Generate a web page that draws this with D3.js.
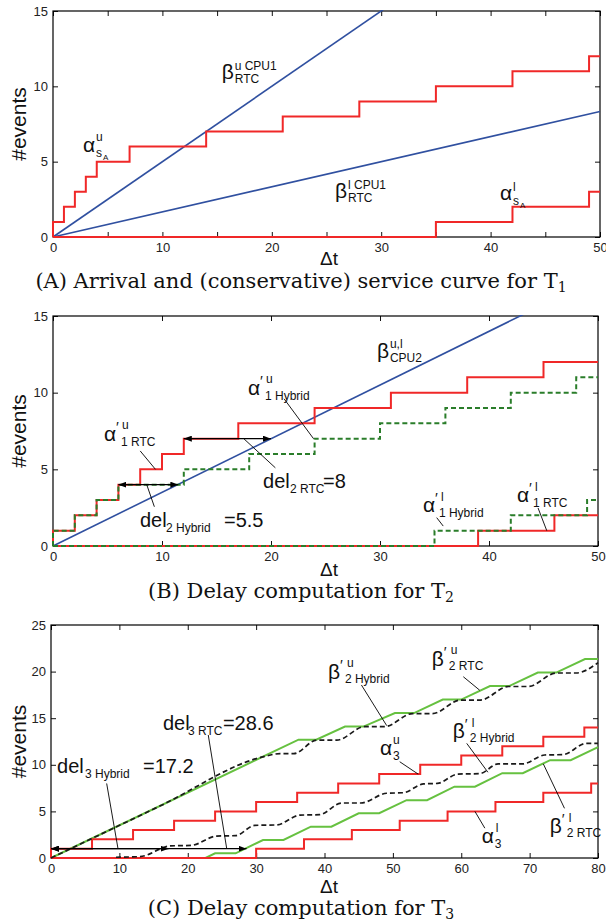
<!DOCTYPE html>
<html>
<head>
<meta charset="utf-8">
<script src="https://cdnjs.cloudflare.com/ajax/libs/d3/7.8.5/d3.min.js"></script>
<style>
  body { margin: 0; background: #fff; }
  svg { display: block; }
  .tick text { font-family: "Liberation Sans", Arial, sans-serif; font-size: 13px; fill: #222; }
  .tick line { stroke: #111; }
</style>
</head>
<body>
<svg id="chart" width="606" height="921"></svg>
<script>
// ---------------- data ----------------

// (A) arrival and service curves for T1
const aAlphaUpperT = [0, 0, 1, 2, 3, 4, 7, 14, 21, 28, 35, 42, 49, 50];
const aAlphaUpperN = [0, 1, 2, 3, 4, 5, 6, 7, 8, 9, 10, 11, 12, 12];
const aAlphaLowerT = [0, 35, 42, 49, 50];
const aAlphaLowerN = [0, 1, 2, 3, 3];
const aBetaT = [0, 50];
const aBetaUpperN = [0, 25];
const aBetaLowerN = [0, 8.33];
const aXTicks = [0, 5, 10, 15, 20, 25, 30, 35, 40, 45, 50];
const aYTicks = [0, 5, 10, 15];

// (B) delay computation for T2
const bRtcUpperT = [0, 0, 2, 4, 6, 8, 10, 12, 17, 24, 31, 38, 45, 50];
const bRtcUpperN = [0, 1, 2, 3, 4, 5, 6, 7, 8, 9, 10, 11, 12, 12];
const bHybUpperT = [0, 0, 2, 4, 6, 12, 18, 24, 30, 36, 42, 48, 50];
const bHybUpperN = [0, 1, 2, 3, 4, 5, 6, 7, 8, 9, 10, 11, 11];
const bRtcLowerT = [0, 39, 46, 50];
const bRtcLowerN = [0, 1, 2, 2];
const bHybLowerT = [0, 35, 42, 49, 50];
const bHybLowerN = [0, 1, 2, 3, 3];
const bBetaT = [0, 50];
const bBetaN = [0, 17.5];
// delay arrows: [level, from, to]
const bDelays = [[7, 12, 20], [4, 6, 11.5]];
const bXTicks = [0, 10, 20, 30, 40, 50];
const bYTicks = [0, 5, 10, 15];

// (C) delay computation for T3
const cAlphaUpperT = [0, 0, 6, 12, 18, 24, 30, 36, 42, 48, 54, 60, 66, 72, 78, 80];
const cAlphaUpperN = [0, 1, 2, 3, 4, 5, 6, 7, 8, 9, 10, 11, 12, 13, 14, 14];
const cAlphaLowerT = [0, 30, 37, 44, 51, 58, 65, 72, 79, 80];
const cAlphaLowerN = [0, 1, 2, 3, 4, 5, 6, 7, 8, 8];
const cBetaRtcUpperT = [0, 36.2, 38.8, 43.0, 45.7, 50.3, 53.1, 57.3, 60.0, 64.2, 67.0, 71.2, 73.9, 78.1, 80];
const cBetaRtcUpperN = [0, 12.7, 12.7, 14.1, 14.1, 15.55, 15.55, 17.0, 17.0, 18.45, 18.45, 19.9, 19.9, 21.35, 21.35];
const cBetaRtcLowerT = [0, 22.6, 24, 27, 31, 34, 38, 41, 45, 48, 52, 55, 59, 62, 66, 69, 73, 76, 80];
const cBetaRtcLowerN = [0, 0, 0.5, 0.5, 1.93, 1.93, 3.36, 3.36, 4.8, 4.8, 6.2, 6.2, 7.65, 7.65, 9.1, 9.1, 10.5, 10.5, 11.9];
const cBetaHybUpperT = [0, 16, 31, 33.5, 35.5, 38.9, 41.8, 45.9, 48.8, 52.9, 55.8, 59.9, 62.8, 66.9, 69.8, 73.9, 76.8, 80];
const cBetaHybUpperN = [0, 5.6, 10.85, 11.2, 11.2, 12.65, 12.65, 14.1, 14.1, 15.5, 15.5, 16.95, 16.95, 18.4, 18.4, 19.85, 19.85, 20.95];
const cBetaHybLowerT = [9.5, 13, 17.5, 20.5, 24.2, 27, 29.8, 33, 36.4, 39.3, 42.5, 45.3, 49.1, 51.5, 54.5, 56.5, 59.5, 62.7, 65.4, 69, 72.2, 74.9, 78.3, 80];
const cBetaHybLowerN = [0.08, 0.15, 1.3, 1.35, 2.35, 2.4, 3.5, 3.55, 4.6, 4.65, 5.9, 5.9, 6.95, 7.0, 7.95, 8.0, 9.0, 9.05, 10.1, 10.1, 11.05, 11.1, 12.3, 12.3];
const cDelays = [[1, 0, 17.2], [1, 0, 28.6]];
const cXTicks = [0, 10, 20, 30, 40, 50, 60, 70, 80];
const cYTicks = [0, 5, 10, 15, 20, 25];

// ---------------- style ----------------
const SANS = '"Liberation Sans", Arial, sans-serif';
const SERIF = '"DejaVu Serif", serif';
const RED = "#f02828", BLUE = "#3050a0", DKGREEN = "#2a7d2a", LTGREEN = "#66c140", BLACK = "#1a1a1a";

const svg = d3.select("#chart");
const defs = svg.append("defs");
defs.append("marker")
  .attr("id", "head")
  .attr("viewBox", "0 0 8 6")
  .attr("refX", 8).attr("refY", 3)
  .attr("markerWidth", 8).attr("markerHeight", 6)
  .attr("markerUnits", "userSpaceOnUse")
  .attr("orient", "auto-start-reverse")
  .append("path").attr("d", "M0,0L8,3L0,6Z").attr("fill", "#000");

const zip = (ts, ns) => ts.map((t, i) => [t, ns[i]]);

// draws the frame, ticks, axis titles and caption of one panel
function panel(cfg) {
  const x = d3.scaleLinear().domain(cfg.xDomain).range(cfg.xRange);
  const y = d3.scaleLinear().domain(cfg.yDomain).range(cfg.yRange);
  const g = svg.append("g");
  const [x0, x1] = cfg.xRange, [y0, y1] = [cfg.yRange[1], cfg.yRange[0]];

  defs.append("clipPath").attr("id", "clip" + cfg.name)
    .append("rect")
    .attr("x", x0 - 2).attr("y", y0 - 1)
    .attr("width", x1 - x0 + 4).attr("height", y1 - y0 + 3);

  g.append("g").attr("transform", `translate(0,${y1})`)
    .call(d3.axisBottom(x).tickValues(cfg.xTicks).tickSize(-5).tickPadding(6)
      .tickFormat(d => d % 10 === 0 ? d : ""))
    .call(a => a.select(".domain").remove());
  g.append("g").attr("transform", `translate(0,${y0})`)
    .call(d3.axisTop(x).tickValues(cfg.xTicks).tickSize(-5).tickFormat(""))
    .call(a => a.select(".domain").remove());
  g.append("g").attr("transform", `translate(${x0},0)`)
    .call(d3.axisLeft(y).tickValues(cfg.yTicks).tickSize(-5).tickPadding(5))
    .call(a => a.select(".domain").remove());
  g.append("g").attr("transform", `translate(${x1},0)`)
    .call(d3.axisRight(y).tickValues(cfg.yTicks).tickSize(-5).tickFormat(""))
    .call(a => a.select(".domain").remove());
  g.selectAll(".tick text").attr("font-family", null).attr("font-size", null);

  g.append("rect")
    .attr("x", x0).attr("y", y0).attr("width", x1 - x0).attr("height", y1 - y0)
    .attr("fill", "none").attr("stroke", "#000").attr("stroke-width", 1.2);

  // axis titles
  g.append("text")
    .attr("transform", `translate(26,${(y0 + y1) / 2}) rotate(-90)`)
    .attr("text-anchor", "middle")
    .attr("font-family", SANS).attr("font-size", 21).attr("fill", "#111")
    .text("#events");
  g.append("text")
    .attr("x", 329).attr("y", cfg.dtY)
    .attr("text-anchor", "middle")
    .attr("font-family", SANS).attr("font-size", 19).attr("fill", "#111")
    .text("\u0394t");

  // caption
  const cap = g.append("text")
    .attr("x", 301).attr("y", cfg.capY)
    .attr("text-anchor", "middle")
    .attr("font-family", SERIF).attr("font-size", 21).attr("fill", "#111");
  cap.append("tspan").text(cfg.caption + "T");
  cap.append("tspan").attr("dy", 4).attr("font-size", 14).text(cfg.capSub);

  const plot = svg.append("g").attr("clip-path", `url(#clip${cfg.name})`);
  const over = svg.append("g");
  return { x, y, plot, over };
}

function stepLine(p, data, color, width, dash) {
  p.plot.append("path")
    .attr("d", d3.line().curve(d3.curveStepAfter).x(d => p.x(d[0])).y(d => p.y(d[1]))(data))
    .attr("fill", "none").attr("stroke", color).attr("stroke-width", width)
    .attr("stroke-dasharray", dash || null);
}

function curveLine(p, data, color, width, dash, curve) {
  p.plot.append("path")
    .attr("d", d3.line().curve(curve || d3.curveLinear).x(d => p.x(d[0])).y(d => p.y(d[1]))(data))
    .attr("fill", "none").attr("stroke", color).attr("stroke-width", width)
    .attr("stroke-dasharray", dash || null);
}

function delayArrows(p, list) {
  list.forEach(([lvl, a, b]) => {
    p.over.append("line")
      .attr("x1", p.x(a)).attr("x2", p.x(b)).attr("y1", p.y(lvl)).attr("y2", p.y(lvl))
      .attr("stroke", "#000").attr("stroke-width", 1.2)
      .attr("marker-start", "url(#head)").attr("marker-end", "url(#head)");
  });
}

// annotation: anchor in data units, pieces = [text, dx, dy, fontSize]
function label(p, ann) {
  const t = p.over.append("text").attr("font-family", SANS).attr("fill", "#111");
  const ax = p.x(ann.at[0]), ay = p.y(ann.at[1]);
  ann.pieces.forEach(([s, dx, dy, fs]) => {
    t.append("tspan").attr("x", ax + dx).attr("y", ay + dy).attr("font-size", fs).text(s);
  });
  if (ann.leader) {
    const [[lx1, ly1], [lx2, ly2]] = ann.leader;
    p.over.append("line")
      .attr("x1", p.x(lx1)).attr("y1", p.y(ly1)).attr("x2", p.x(lx2)).attr("y2", p.y(ly2))
      .attr("stroke", "#000").attr("stroke-width", 0.9);
  }
}

// ---------------- panel A ----------------
const pA = panel({
  name: "A", xDomain: [0, 50], xRange: [53, 600], yDomain: [0, 15], yRange: [237, 11],
  xTicks: aXTicks, yTicks: aYTicks, dtY: 265, capY: 288,
  caption: "(A) Arrival and (conservative) service curve for ", capSub: "1"
});
curveLine(pA, zip(aBetaT, aBetaUpperN), BLUE, 1.6);
curveLine(pA, zip(aBetaT, aBetaLowerN), BLUE, 1.6);
stepLine(pA, zip(aAlphaUpperT, aAlphaUpperN), RED, 2);
stepLine(pA, zip(aAlphaLowerT, aAlphaLowerN), RED, 2);

const annA = [
  { at: [15.42, 10.48], pieces: [["\u03b2", 0, 0, 21], ["u CPU1", 13, -9, 12], ["RTC", 13, 4, 12]] },
  { at: [2.74, 5.64], pieces: [["\u03b1", 0, 0, 21], ["u", 13, -11, 12], ["s", 13, 5, 12], ["A", 20, 8, 8]] },
  { at: [25.78, 2.59], pieces: [["\u03b2", 0, 0, 21], ["l CPU1", 13, -9, 12], ["RTC", 13, 4, 12]] },
  { at: [40.86, 2.46], pieces: [["\u03b1", 0, 0, 21], ["l", 13, -9, 12], ["s", 13, 5, 12], ["A", 20, 8, 8]] }
];
annA.forEach(a => label(pA, a));

// ---------------- panel B ----------------
const pB = panel({
  name: "B", xDomain: [0, 50], xRange: [53, 598], yDomain: [0, 15], yRange: [546, 316],
  xTicks: bXTicks, yTicks: bYTicks, dtY: 576, capY: 598,
  caption: "(B) Delay computation for ", capSub: "2"
});
curveLine(pB, zip(bBetaT, bBetaN), BLUE, 1.6);
stepLine(pB, zip(bRtcUpperT, bRtcUpperN), RED, 2);
stepLine(pB, zip(bRtcLowerT, bRtcLowerN), RED, 2);
stepLine(pB, zip(bHybUpperT, bHybUpperN), DKGREEN, 2, "5,3");
stepLine(pB, zip(bHybLowerT, bHybLowerN), DKGREEN, 2, "5,3");
delayArrows(pB, bDelays);

const annB = [
  { at: [29.72, 12.26], pieces: [["\u03b2", 0, 0, 21], ["u,l", 13, -10, 12], ["CPU2", 13, 4, 12]] },
  { at: [4.68, 6.85], pieces: [["\u03b1", 0, 0, 21], ["\u2032", 12, -9, 15], ["u", 18, -12, 12], ["1 RTC", 17, 5, 12]],
    leader: [[8.0, 6.2], [9.4, 5.0]] },
  { at: [17.89, 9.85], pieces: [["\u03b1", 0, 0, 21], ["\u2032", 12, -9, 15], ["u", 18, -12, 12], ["1 Hybrid", 17, 5, 12]],
    leader: [[21.2, 9.6], [23.9, 7.0]] },
  { at: [19.27, 3.78], pieces: [["del", 0, 0, 20], ["2 RTC", 27, 5, 12], ["=8", 60, 0, 20]],
    leader: [[17.5, 7.0], [20.4, 5.1]] },
  { at: [7.98, 1.24], pieces: [["del", 0, 0, 20], ["2 Hybrid", 26, 5, 12], ["=5.5", 84, 0, 20]],
    leader: [[8.6, 4.0], [9.3, 2.56]] },
  { at: [33.94, 2.22], pieces: [["\u03b1", 0, 0, 21], ["\u2032", 12, -9, 15], ["l", 18, -11, 12], ["1 Hybrid", 16, 5, 12]],
    leader: [[35.2, 1.85], [35.8, 1.3]] },
  { at: [42.57, 2.87], pieces: [["\u03b1", 0, 0, 21], ["\u2032", 12, -9, 15], ["l", 18, -11, 12], ["1 RTC", 16, 5, 12]],
    leader: [[44.5, 2.48], [45.3, 1.0]] }
];
annB.forEach(a => label(pB, a));

// ---------------- panel C ----------------
const pC = panel({
  name: "C", xDomain: [0, 80], xRange: [51, 598], yDomain: [0, 25], yRange: [858, 625],
  xTicks: cXTicks, yTicks: cYTicks, dtY: 893, capY: 915,
  caption: "(C) Delay computation for ", capSub: "3"
});
curveLine(pC, zip(cBetaRtcUpperT, cBetaRtcUpperN), LTGREEN, 2);
curveLine(pC, zip(cBetaRtcLowerT, cBetaRtcLowerN), LTGREEN, 2);
stepLine(pC, zip(cAlphaUpperT, cAlphaUpperN), RED, 2);
stepLine(pC, zip(cAlphaLowerT, cAlphaLowerN), RED, 2);
curveLine(pC, zip(cBetaHybUpperT, cBetaHybUpperN), BLACK, 1.7, "5,3", d3.curveMonotoneX);
curveLine(pC, zip(cBetaHybLowerT, cBetaHybLowerN), BLACK, 1.7, "5,3", d3.curveMonotoneX);
delayArrows(pC, cDelays);

const annC = [
  { at: [0.88, 9.12], pieces: [["del", 0, 0, 20], ["3 Hybrid", 28, 5, 12], ["=17.2", 86, 0, 20]],
    leader: [[8.14, 8.0], [9.8, 1]] },
  { at: [16.37, 13.73], pieces: [["del", 0, 0, 20], ["3 RTC", 25, 5, 12], ["=28.6", 60, 0, 20]],
    leader: [[23.0, 13.2], [25.7, 1]] },
  { at: [40.5, 19.2], pieces: [["\u03b2", 0, 0, 21], ["\u2032", 12, -9, 15], ["u", 19, -12, 12], ["2 Hybrid", 17, 4, 12]],
    leader: [[45.4, 18.56], [49.1, 14.2]] },
  { at: [55.7, 20.6], pieces: [["\u03b2", 0, 0, 21], ["\u2032", 12, -9, 15], ["u", 19, -12, 12], ["2 RTC", 17, 4, 12]],
    leader: [[60.3, 19.45], [62.7, 18.0]] },
  { at: [58.77, 12.88], pieces: [["\u03b2", 0, 0, 21], ["\u2032", 12, -9, 15], ["l", 19, -11, 12], ["2 Hybrid", 17, 4, 12]],
    leader: [[60.8, 12.3], [63.9, 9.2]] },
  { at: [48.1, 11.05], pieces: [["\u03b1", 0, 0, 21], ["u", 13, -11, 12], ["3", 13, 5, 12]],
    leader: [[51.0, 10.33], [53.7, 9.0]] },
  { at: [63.0, 1.61], pieces: [["\u03b1", 0, 0, 21], ["l", 14, -11, 12], ["3", 13, 5, 12]],
    leader: [[62.0, 5.0], [63.45, 3.2]] },
  { at: [72.95, 2.68], pieces: [["\u03b2", 0, 0, 21], ["\u2032", 12, -9, 15], ["l", 19, -11, 12], ["2 RTC", 17, 4, 12]],
    leader: [[72.0, 10.1], [75.1, 5.33]] }
];
annC.forEach(a => label(pC, a));
</script>
</body>
</html>
